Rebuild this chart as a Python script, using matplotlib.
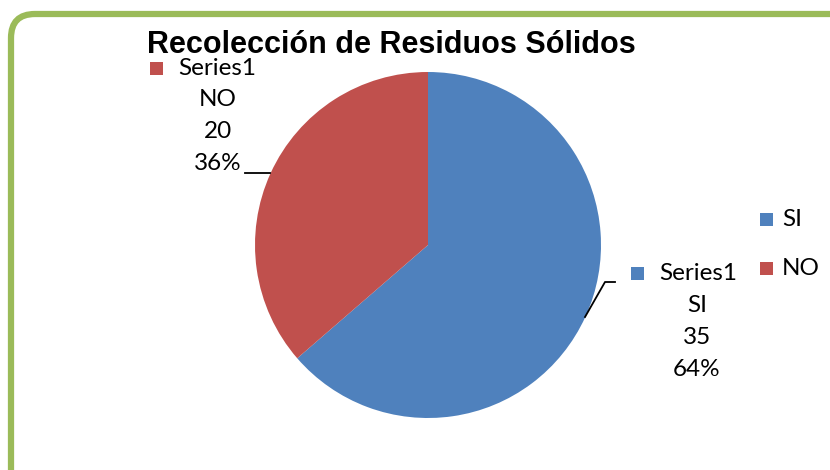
import matplotlib
matplotlib.use("Agg")
import matplotlib.pyplot as plt
from matplotlib.patches import FancyBboxPatch, Rectangle

# Survey results
categories = ["SI", "NO"]
values = [35, 20]
series_name = "Series1"
title = "Recolección de Residuos Sólidos"
colors = ["#4F81BD", "#C0504D"]

W, H = 830, 470
fig = plt.figure(figsize=(W / 100, H / 100), dpi=100)
ax = fig.add_axes([0, 0, 1, 1])


def Y(y):
    return H - y


label_font = dict(family=["Lato", "DejaVu Sans"], fontsize=17.5, color="#000000")

# Rounded green frame
frame = FancyBboxPatch((11, Y(14) - 520), 900, 520,
                       boxstyle="round,pad=0,rounding_size=24",
                       linewidth=4.5, edgecolor="#9BBB59", facecolor="white", zorder=0)
ax.add_patch(frame)

# Pie
cx, cy, r = 428, Y(245), 173
ax.pie(values, colors=colors, startangle=90, counterclock=False,
       center=(cx, cy), radius=r, frame=True,
       wedgeprops=dict(linewidth=0))

total = sum(values)
pcts = [round(v / total * 100) for v in values]

# Data labels
def data_label(x_sq, y_top, x_center, cat, val, pct, color):
    ax.add_patch(Rectangle((x_sq, Y(y_top + 13)), 13, 13, facecolor=color, edgecolor="none"))
    ax.text(x_sq + 28, Y(y_top + 6.5), series_name, ha="left", va="center", **label_font)
    for i, t in enumerate([cat, str(val), f"{pct}%"]):
        ax.text(x_center, Y(y_top + 38 + 32 * i), t, ha="center", va="center", **label_font)

data_label(150, 62, 218, categories[1], values[1], pcts[1], colors[1])
data_label(631, 267, 697, categories[0], values[0], pcts[0], colors[0])

# Leader lines
ax.plot([245, 270], [Y(173), Y(173)], color="black", lw=1.3)
ax.plot([615, 605, 585], [Y(282), Y(282), Y(317)], color="black", lw=1.3)

# Legend
for i, (cat, col) in enumerate(zip(categories, colors)):
    ytop = 213 + 49 * i
    ax.add_patch(Rectangle((760, Y(ytop + 13)), 13, 13, facecolor=col, edgecolor="none"))
    ax.text(782, Y(ytop + 6.5), cat, ha="left", va="center", **label_font)

# Title
ax.text(391, Y(53), title, ha="center", va="baseline",
        family=["Liberation Sans", "DejaVu Sans"], fontweight="bold", fontsize=22)

ax.set_xlim(0, W)
ax.set_ylim(0, H)
ax.set_aspect("auto")
ax.axis("off")

fig.savefig("out.png", dpi=100)
